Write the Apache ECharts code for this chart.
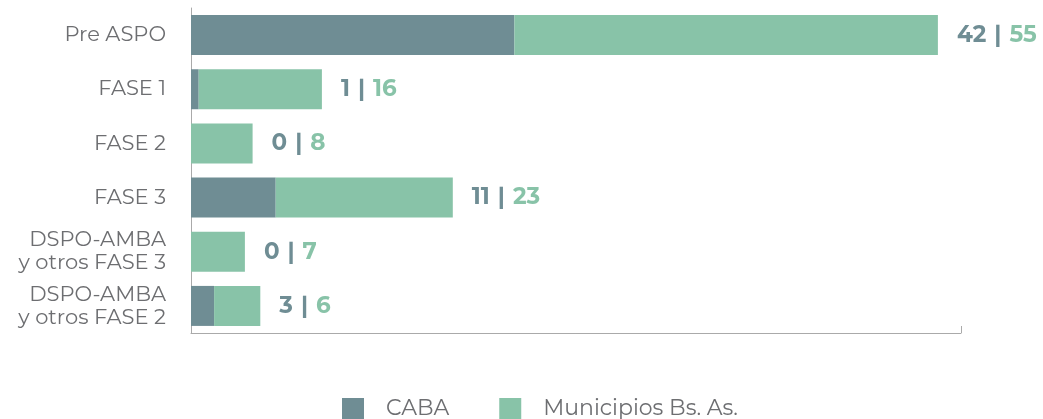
<!DOCTYPE html>
<html>
<head>
<meta charset="utf-8">
<script src="https://cdn.jsdelivr.net/npm/echarts@6/dist/echarts.min.js"></script>
<style>
  html, body { margin: 0; padding: 0; background: #fff; }
  #chart { width: 1043px; height: 419px; }
</style>
</head>
<body>
<div id="chart"></div>
<script>
// categories listed top to bottom
var categories = ['Pre ASPO', 'FASE 1', 'FASE 2', 'FASE 3', 'DSPO-AMBA\ny otros FASE 3', 'DSPO-AMBA\ny otros FASE 2'];
var caba = [42, 1, 0, 11, 0, 3];
var municipios = [55, 16, 8, 23, 7, 6];

var colCaba = '#6f8d94';
var colMuni = '#88c3a8';
var textGray = '#6d6e71';

var chart = echarts.init(document.getElementById('chart'));

var option = {
    animation: false,
    textStyle: { fontFamily: 'Montserrat, "Open Sans", sans-serif' },
    grid: { left: 191, right: 82, top: 8, bottom: 86, containLabel: false },
    legend: {
        bottom: -6,
        left: 337,
        itemWidth: 22,
        itemHeight: 22,
        itemGap: 50,
        icon: 'rect',
        textStyle: { color: textGray, fontSize: 22, padding: [0, 0, 0, 17] },
        data: ['CABA', 'Municipios Bs. As.']
    },
    xAxis: {
        type: 'value',
        min: 0,
        max: 100,
        interval: 100,
        splitLine: { show: false },
        axisLabel: { show: false },
        axisLine: { show: true, lineStyle: { color: '#aaaaaa', width: 1 } },
        axisTick: { show: true, inside: true, length: 7, lineStyle: { color: '#aaaaaa' } }
    },
    yAxis: {
        type: 'category',
        inverse: true,
        data: categories,
        axisLine: { show: true, lineStyle: { color: '#aaaaaa' } },
        axisTick: { show: false },
        axisLabel: { color: textGray, fontSize: 21, lineHeight: 23, margin: 25, align: 'right' }
    },
    series: [
        {
            name: 'CABA',
            type: 'bar',
            stack: 'total',
            barWidth: 40,
            itemStyle: { color: colCaba },
            data: caba
        },
        {
            name: 'Municipios Bs. As.',
            type: 'bar',
            stack: 'total',
            barWidth: 40,
            itemStyle: { color: colMuni },
            label: {
                show: true,
                position: 'right',
                distance: 19,
                formatter: function (p) {
                    return '{a|' + caba[p.dataIndex] + '}{s||}{b|' + municipios[p.dataIndex] + '}';
                },
                rich: {
                    a: { color: colCaba, fontSize: 23, fontWeight: 'bold' },
                    s: { color: colCaba, fontSize: 23, fontWeight: 'bold', padding: [0, 8, 0, 8] },
                    b: { color: colMuni, fontSize: 23, fontWeight: 'bold' }
                }
            },
            data: municipios
        }
    ]
};

chart.setOption(option);
</script>
</body>
</html>
